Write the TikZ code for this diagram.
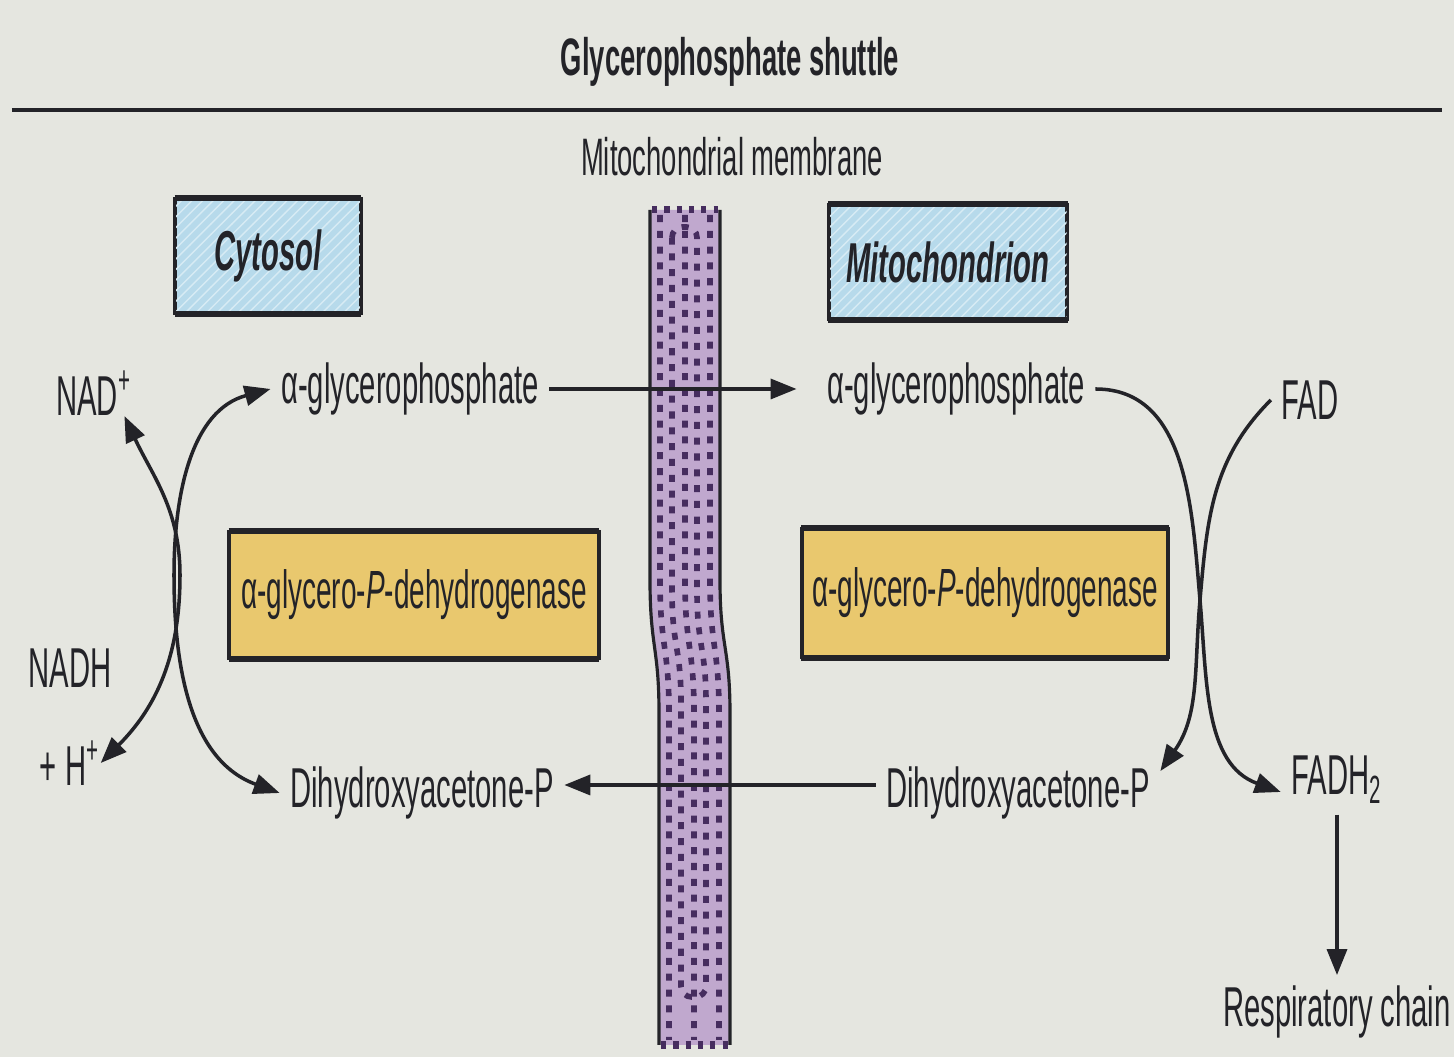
\documentclass[tikz,border=0pt]{standalone}
\usepackage{fontspec}
\setmainfont[FakeStretch=0.52]{Liberation Sans}
\usetikzlibrary{arrows.meta,positioning,patterns}

\definecolor{paper}{RGB}{229,230,224}
\definecolor{boxblue}{RGB}{183,218,235}
\definecolor{boxyellow}{RGB}{233,200,110}
\definecolor{membfill}{RGB}{192,168,206}
\definecolor{membdot}{RGB}{70,45,95}
\definecolor{ink}{RGB}{35,35,40}

\tikzset{
  lbl/.style={inner sep=1mm,text=ink,font=\fontsize{16}{18}\selectfont},
  chem/.style={lbl,inner sep=0pt},
  region/.style={draw=ink,line width=0.8pt,fill=boxblue,inner sep=0pt,text=ink,
    postaction={pattern=north east lines,pattern color=white!45!boxblue},
    font=\fontsize{16}{18}\selectfont\bfseries\itshape},
  enzyme/.style={draw=ink,line width=0.8pt,fill=boxyellow,inner sep=0pt,text=ink,
    font=\fontsize{15.3}{17}\selectfont},
  flow/.style={->,draw=ink,line width=1pt},
  twoway/.style={<->,draw=ink,line width=1pt},
  membdash/.style={membdot,line width=1.6pt,dash pattern=on 2pt off 2.5pt},
}

\begin{document}
\begin{tikzpicture}[x=1cm,y=1cm,>={Triangle[length=2.6mm,width=2mm]}]
  \fill[paper] (0,0) rectangle (14.54,10.57);
  \useasboundingbox (0,0) rectangle (14.54,10.57);

  \node[lbl,font=\fontsize{15}{17}\selectfont\bfseries] (title) at (7.30,9.95) {Glycerophosphate shuttle};
  \draw[ink,line width=1.2pt] (0.12,9.47) -- (14.42,9.47);
  \node[lbl,font=\fontsize{15}{17}\selectfont] (membrane) at (7.32,9.00) {Mitochondrial membrane};

  % membrane strip
  \fill[membfill] (6.50,8.47) -- (6.50,4.77) .. controls (6.50,4.10) and (6.59,4.10) .. (6.59,3.44)
    -- (6.59,0.12) -- (7.30,0.12) -- (7.30,3.44) .. controls (7.30,4.10) and (7.20,4.10) .. (7.20,4.77)
    -- (7.20,8.47) -- cycle;
  \foreach \t in {0.10,0.35,0.60}
    \draw[membdash] ({6.50+\t},8.42) -- ({6.50+\t},4.77) .. controls ({6.50+\t},4.10) and ({6.59+\t},4.10) .. ({6.59+\t},3.44) -- ({6.59+\t},0.17);
  \draw[membdash,rounded corners=3pt] (6.72,8.30) -- (6.72,4.77) .. controls (6.72,4.10) and (6.81,4.10) .. (6.81,3.44)
    -- (6.81,0.60) -- (7.06,0.60) -- (7.06,3.44) .. controls (7.06,4.10) and (6.97,4.10) .. (6.97,4.77) -- (6.97,8.30) -- cycle;
  \draw[ink,line width=0.9pt] (6.50,8.47) -- (6.50,4.77) .. controls (6.50,4.10) and (6.59,4.10) .. (6.59,3.44) -- (6.59,0.12);
  \draw[ink,line width=0.9pt] (7.20,8.47) -- (7.20,4.77) .. controls (7.20,4.10) and (7.30,4.10) .. (7.30,3.44) -- (7.30,0.12);
  \draw[membdot,line width=2pt,dash pattern=on 1.5pt off 2pt] (6.52,8.47) -- (7.18,8.47);
  \draw[membdot,line width=2pt,dash pattern=on 1.5pt off 2pt] (6.61,0.12) -- (7.28,0.12);

  % boxes
  \node[region,minimum width=1.84cm,minimum height=1.13cm] (cytosol) at (2.68,8.01) {Cytosol};
  \node[region,minimum width=2.37cm,minimum height=1.13cm] (mito) at (9.48,7.95) {Mitochondrion};
  \node[enzyme,minimum width=3.68cm,minimum height=1.25cm] (enzL) at (4.14,4.62) {α-glycero-\textit{P}-dehydrogenase};
  \node[enzyme,minimum width=3.65cm,minimum height=1.27cm] (enzR) at (9.85,4.64) {α-glycero-\textit{P}-dehydrogenase};
  \foreach \b in {cytosol,mito,enzL,enzR}{
    \draw[ink,line width=0.8pt] (\b.north west) rectangle (\b.south east);
    \draw[ink,line width=1.8pt] (\b.north west) -- (\b.north east) (\b.south west) -- (\b.south east);
  }

  % metabolites
  \node[lbl] (glyL) at (4.10,6.68) {α-glycerophosphate};
  \node[lbl] (glyR) at (9.56,6.68) {α-glycerophosphate};
  \node[lbl] (dhapL) at (4.22,2.64) {Dihydroxyacetone-P};
  \node[lbl] (dhapR) at (10.18,2.64) {Dihydroxyacetone-P};
  \node[chem] (nad) at (0.94,6.64) {NAD\textsuperscript{+}};
  \node[chem] (nadh) at (0.70,3.89) {NADH};
  \node[chem] (hplus) at (0.70,2.94) {+ H\textsuperscript{+}};
  \node[lbl] (fad) at (13.10,6.57) {FAD};
  \node[lbl] (fadh) at (13.37,2.77) {FADH\textsubscript{2}};
  \node[lbl] (resp) at (13.37,0.45) {Respiratory chain};

  \coordinate (xcytL) at (1.80,4.82);
  \coordinate (xcytR) at (1.74,4.82);
  \coordinate (xmito) at (12.00,4.57);

  % transport across the membrane
  \draw[flow] (glyL.east) -- ([xshift=-2mm]glyR.west);
  \draw[flow] ([yshift=0.8mm]dhapR.west) -- ([yshift=0.8mm]dhapL.east);

  % cytosolic reaction
  \draw[twoway] ([xshift=-0.8mm]nad.south east) to[out=-65,in=90] (xcytL) to[out=-90,in=45] (hplus.east);
  \draw[twoway] (glyL.west) to[out=195,in=90] (xcytR) to[out=-90,in=160] (dhapL.west);

  % mitochondrial reaction
  \draw[flow] (glyR.east) to[out=0,in=95] (xmito) to[out=-85,in=160] ([yshift=-1.2mm]fadh.west);
  \draw[flow] (fad.west) to[out=225,in=85] (xmito) to[out=-95,in=55] ([yshift=-1.5mm]dhapR.north east);
  \draw[flow] (resp.north |- fadh.south) -- (resp.north);
\end{tikzpicture}
\end{document}
